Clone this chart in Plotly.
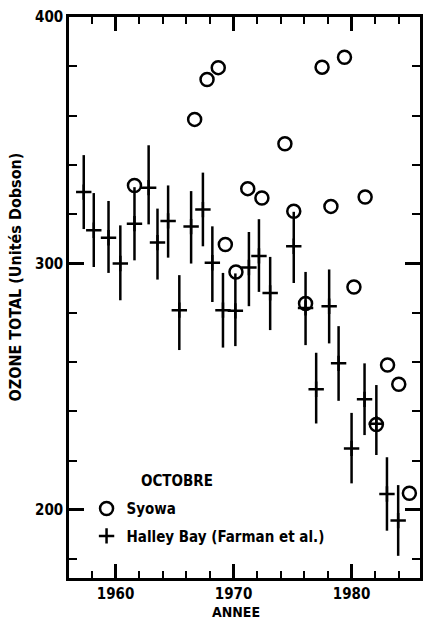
import plotly.graph_objects as go

# Syowa (open circles)
syowa_year = [1961.6, 1966.7, 1967.75, 1968.7, 1969.3, 1970.2, 1971.2, 1972.4, 1974.35, 1975.1,
              1976.1, 1977.5, 1978.25, 1979.4, 1980.2, 1981.15, 1982.1, 1983.05, 1984.0, 1984.9]
syowa_ozone = [331.7, 358.5, 374.7, 379.5, 307.7, 296.6, 330.4, 326.6, 348.6, 321.2,
               283.8, 379.7, 323.2, 383.7, 290.5, 327.0, 234.7, 258.8, 251.0, 206.8]

# Halley Bay (Farman et al.) : mean with error bar limits
halley_year = [1957.3, 1958.15, 1959.4, 1960.4, 1961.6, 1962.8, 1963.55, 1964.45, 1965.4, 1966.4,
               1967.4, 1968.2, 1969.1, 1970.15, 1971.3, 1972.15, 1973.1, 1975.1, 1976.1, 1977.0,
               1978.1, 1978.9, 1980.0, 1981.1, 1982.1, 1983.0, 1983.95]
halley_ozone = [329.0, 313.5, 310.5, 300.0, 316.2, 330.8, 308.5, 317.3, 281.1, 315.0,
                321.9, 300.3, 281.1, 280.8, 298.4, 303.1, 288.1, 307.0, 282.0, 249.0,
                282.7, 259.5, 225.0, 244.9, 235.0, 206.5, 195.7]
halley_upper = [344.0, 328.6, 325.4, 315.5, 331.0, 348.0, 322.3, 331.7, 295.3, 329.4,
                336.9, 315.1, 296.2, 296.0, 312.8, 318.0, 302.7, 321.0, 296.6, 263.8,
                297.6, 274.6, 239.4, 259.5, 250.7, 221.4, 210.1]
halley_lower = [314.0, 298.6, 296.2, 285.1, 301.3, 315.9, 293.5, 302.4, 264.9, 300.0,
                307.0, 284.4, 265.9, 266.5, 282.7, 288.5, 273.0, 292.1, 266.9, 235.1,
                267.6, 244.3, 210.8, 230.4, 222.3, 191.6, 181.4]

x_ticks = [1960, 1970, 1980]
y_ticks = [200, 300, 400]

FONT = "DejaVu Sans Condensed"

err_plus = [u - c for u, c in zip(halley_upper, halley_ozone)]
err_minus = [c - l for c, l in zip(halley_ozone, halley_lower)]

fig = go.Figure()
fig.add_trace(go.Scatter(
    x=halley_year, y=halley_ozone, mode="markers", name="Halley Bay (Farman et al.)",
    marker=dict(symbol="cross-thin", size=11, color="black", line=dict(color="black", width=2.5)),
    error_y=dict(type="data", symmetric=False, array=err_plus, arrayminus=err_minus,
                 color="black", thickness=2.5, width=0),
    legendrank=2, legendgroup="h",
))
fig.add_trace(go.Scatter(
    x=syowa_year, y=syowa_ozone, mode="markers", name="Syowa",
    marker=dict(symbol="circle-open", size=13, color="black", line=dict(color="black", width=2.5)),
    legendrank=1, legendgroup="s",
))

axis_common = dict(
    showline=True, linecolor="black", linewidth=2.5, mirror="allticks",
    ticks="inside", tickcolor="black", tickwidth=2.5, showgrid=False, zeroline=False,
    tickfont=dict(family=FONT, size=15, color="black", weight="bold"),
)
fig.update_xaxes(range=[1956.05, 1985.8], tickvals=x_ticks, ticklen=14,
                 minor=dict(dtick=2, tick0=1960, ticks="inside", ticklen=7, tickwidth=2, tickcolor="black"),
                 **axis_common)
fig.update_yaxes(range=[172.4, 400.05], tickvals=y_ticks, ticklen=15,
                 minor=dict(dtick=20, tick0=200, ticks="inside", ticklen=8, tickwidth=2, tickcolor="black"),
                 **axis_common)

fig.add_annotation(text="OZONE TOTAL (Unités Dobson)", xref="paper", yref="paper",
                   x=-0.1525, y=0.5365, xanchor="center", yanchor="middle",
                   textangle=-90, showarrow=False,
                   font=dict(family=FONT, size=16, color="black", weight="bold"))
fig.add_annotation(text="ANNEE", xref="paper", yref="paper", x=0.477, y=-0.0784,
                   xanchor="center", yanchor="bottom",
                   showarrow=False, font=dict(family=FONT, size=14, color="black", weight="bold"))
fig.add_annotation(text="OCTOBRE", xref="paper", yref="paper", x=0.308, y=0.173,
                   xanchor="center", yanchor="middle",
                   showarrow=False, font=dict(family=FONT, size=15, color="black", weight="bold"))

fig.update_layout(
    width=424, height=622, margin=dict(l=69, r=1, t=17, b=44),
    plot_bgcolor="white", paper_bgcolor="white",
    showlegend=True,
    legend=dict(x=0.05, y=0.153, xanchor="left", yanchor="top", bgcolor="rgba(0,0,0,0)",
                tracegroupgap=5, font=dict(family=FONT, size=15, color="black", weight="bold")),
)

fig.write_html("out.html")
